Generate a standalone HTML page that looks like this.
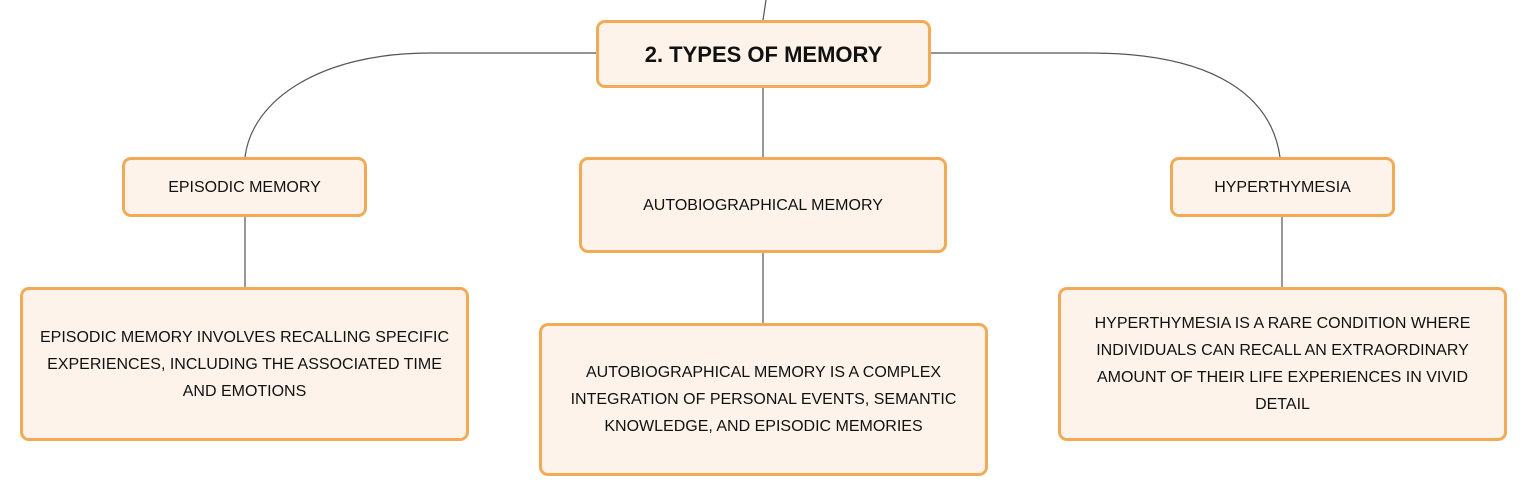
<!DOCTYPE html>
<html><head><meta charset="utf-8"><style>
body{margin:0;width:1527px;height:497px;background:#fff;position:relative;overflow:hidden;font-family:"Liberation Sans",sans-serif;}
.b{position:absolute;box-sizing:border-box;background:#fdf3ea;border:3px solid #f2aa57;border-radius:9px;display:flex;align-items:center;justify-content:center;text-align:center;color:#111;font-size:16px;line-height:27px;padding:0 10px;}
svg{position:absolute;left:0;top:0}
</style></head><body>
<svg width="1527" height="497">
<g fill="none" stroke="#555" stroke-width="1.2">
<path d="M766,0 L763,20"/>
<path d="M596,53 L430,53 C320,53 252,100 245,157"/>
<path d="M930,53 L1090,53 C1220,53 1272,100 1280,157"/>
<path d="M763,87 L763,157"/>
<path d="M245,216 L245,287"/>
<path d="M763,252 L763,323"/>
<path d="M1282,216 L1282,287"/>
</g>
</svg>
<div class="b" style="left:596px;top:20px;width:335px;height:68px;font-weight:bold;font-size:22px;">2. TYPES OF MEMORY</div>
<div class="b" style="left:122px;top:157px;width:245px;height:60px;">EPISODIC MEMORY</div>
<div class="b" style="left:579px;top:157px;width:368px;height:96px;">AUTOBIOGRAPHICAL MEMORY</div>
<div class="b" style="left:1170px;top:157px;width:225px;height:60px;">HYPERTHYMESIA</div>
<div class="b" style="left:20px;top:287px;width:449px;height:154px;">EPISODIC MEMORY INVOLVES RECALLING SPECIFIC EXPERIENCES, INCLUDING THE ASSOCIATED TIME AND EMOTIONS</div>
<div class="b" style="left:539px;top:323px;width:449px;height:153px;padding:0 20px;">AUTOBIOGRAPHICAL MEMORY IS A COMPLEX INTEGRATION OF PERSONAL EVENTS, SEMANTIC KNOWLEDGE, AND EPISODIC MEMORIES</div>
<div class="b" style="left:1058px;top:287px;width:449px;height:154px;padding:0 22px;">HYPERTHYMESIA IS A RARE CONDITION WHERE INDIVIDUALS CAN RECALL AN EXTRAORDINARY AMOUNT OF THEIR LIFE EXPERIENCES IN VIVID DETAIL</div>
</body></html>
